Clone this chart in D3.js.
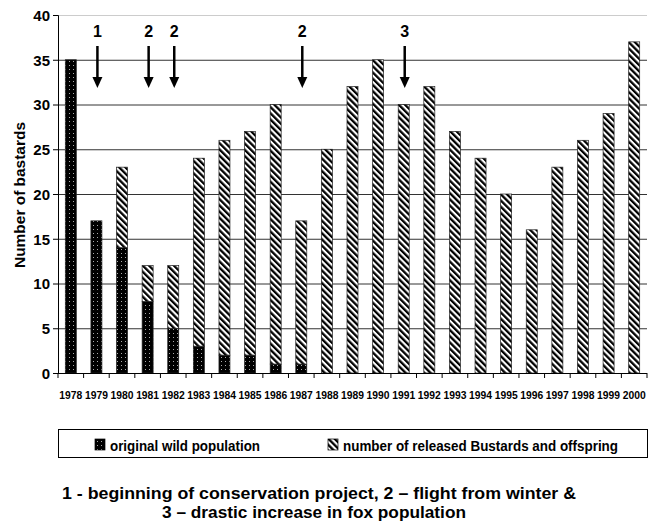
<!DOCTYPE html>
<html>
<head>
<meta charset="utf-8">
<script src="https://cdn.jsdelivr.net/npm/d3@7"></script>
<style>
  body { margin: 0; background: #fff; }
  svg text { font-family: "Liberation Sans", Arial, sans-serif; font-weight: bold; fill: #000; }
</style>
</head>
<body>
<div id="chart"></div>
<script>
// data
var years = ["1978","1979","1980","1981","1982","1983","1984","1985","1986","1987","1988",
             "1989","1990","1991","1992","1993","1994","1995","1996","1997","1998","1999","2000"];
var wild =     [35,17,14, 8, 5, 3, 2, 2, 1, 1, 0, 0, 0, 0, 0, 0, 0, 0, 0, 0, 0, 0, 0];
var released = [ 0, 0, 9, 4, 7,21,24,25,29,16,25,32,35,30,32,27,24,20,16,23,26,29,37];
var yTicks = [0,5,10,15,20,25,30,35,40];
var events = [{year:"1979", label:"1"}, {year:"1981", label:"2"}, {year:"1982", label:"2"},
              {year:"1987", label:"2"}, {year:"1991", label:"3"}];
var legendLabels = ["original wild population", "number of released Bustards and offspring"];
var notes = ["1  - beginning of conservation project, 2 \u2013 flight from winter &",
             "3 \u2013 drastic increase in fox population"];

var W = 653, H = 524;
var mLeft = 58, mRight = 647, mTop = 15, mBottom = 373;

var svg = d3.select("#chart").append("svg")
    .attr("width", W).attr("height", H);

var defs = svg.append("defs");
// dotted black fill
var pDot = defs.append("pattern").attr("id", "dots")
    .attr("patternUnits", "userSpaceOnUse").attr("width", 4).attr("height", 4);
pDot.append("rect").attr("width", 4).attr("height", 4).attr("fill", "#000");
pDot.append("rect").attr("x", 1).attr("y", 1).attr("width", 1).attr("height", 1).attr("fill", "#aaa");
// diagonal hatch, top-left to bottom-right
var pHatch = defs.append("pattern").attr("id", "hatch")
    .attr("patternUnits", "userSpaceOnUse").attr("width", 4.4).attr("height", 4.4)
    .attr("patternTransform", "rotate(-45)");
pHatch.append("rect").attr("width", 4.4).attr("height", 4.4).attr("fill", "#fff");
pHatch.append("rect").attr("x", 0).attr("width", 2.3).attr("height", 4.4).attr("fill", "#000");

var x = d3.scaleBand().domain(years).range([mLeft, mRight]).paddingInner(0.57).paddingOuter(0.285);
var y = d3.scaleLinear().domain([0, 40]).range([mBottom, mTop]);
var step = x.step();

// gridlines
svg.append("g").selectAll("line").data(yTicks.filter(function(d){ return d > 0; }))
    .enter().append("line")
    .attr("x1", mLeft).attr("x2", mRight)
    .attr("y1", function(d){ return y(d) + 0.5; }).attr("y2", function(d){ return y(d) + 0.5; })
    .attr("stroke", function(d){ return d == 40 ? "#ccc" : "#333"; })
    .attr("stroke-width", 1);

// stacked bars
var rows = years.map(function(yr, i){ return {year: yr, wild: wild[i], rel: released[i]}; });
var stack = d3.stack().keys(["wild", "rel"])(rows);
svg.append("g").selectAll("g").data(stack).enter().append("g")
    .attr("fill", function(d, i){ return i == 0 ? "url(#dots)" : "url(#hatch)"; })
    .selectAll("rect").data(function(d){ return d; }).enter()
    .filter(function(d){ return d[1] - d[0] > 0; })
    .append("rect")
    .attr("x", function(d){ return x(d.data.year); })
    .attr("width", x.bandwidth())
    .attr("y", function(d){ return y(d[1]); })
    .attr("height", function(d){ return y(d[0]) - y(d[1]); })
    .attr("stroke", "#222").attr("stroke-width", 0.7);

// y axis
var yAxis = svg.append("g").attr("transform", "translate(" + mLeft + ",0)")
    .call(d3.axisLeft(y).tickValues(yTicks).tickSize(5).tickPadding(3));
yAxis.select(".domain").attr("stroke", "#000");
yAxis.selectAll("text").style("font-size", "15px").attr("dy", "0.36em");

// x axis: ticks between the categories
var xg = svg.append("g");
xg.append("line").attr("x1", mLeft).attr("x2", mRight).attr("y1", mBottom + 0.5).attr("y2", mBottom + 0.5).attr("stroke", "#000");
xg.selectAll(".tk").data(d3.range(years.length + 1)).enter().append("line")
    .attr("x1", function(i){ return mLeft + i * step; }).attr("x2", function(i){ return mLeft + i * step; })
    .attr("y1", mBottom).attr("y2", mBottom + 5).attr("stroke", "#000");
xg.selectAll("text").data(years).enter().append("text")
    .attr("x", function(d){ return x(d) + x.bandwidth() / 2; })
    .attr("y", 399).attr("text-anchor", "middle")
    .attr("textLength", 23).attr("lengthAdjust", "spacingAndGlyphs")
    .style("font-size", "11px")
    .text(function(d){ return d; });

// y title
svg.append("text").attr("transform", "translate(25,195) rotate(-90)")
    .attr("text-anchor", "middle").style("font-size", "15px")
    .attr("textLength", 146).attr("lengthAdjust", "spacingAndGlyphs")
    .text("Number of bastards");

// event arrows
var ev = svg.append("g").selectAll("g").data(events).enter().append("g")
    .attr("transform", function(d){ return "translate(" + (x(d.year) + x.bandwidth() / 2 + 1) + ",0)"; });
ev.append("text").attr("y", 37).attr("text-anchor", "middle").style("font-size", "16px")
    .text(function(d){ return d.label; });
ev.append("line").attr("x1", 0).attr("x2", 0).attr("y1", 46).attr("y2", 79)
    .attr("stroke", "#000").attr("stroke-width", 2.5);
ev.append("path").attr("d", "M-5,77 L5,77 L0,88 Z").attr("fill", "#000");

// legend
var lg = svg.append("g");
lg.append("rect").attr("x", 58.5).attr("y", 429.5).attr("width", 589).attr("height", 28)
    .attr("fill", "#fff").attr("stroke", "#000");
var lx = [95, 328], lw = [150, 275];
lg.selectAll(".sw").data(legendLabels).enter().append("rect")
    .attr("x", function(d, i){ return lx[i]; }).attr("y", 439).attr("width", 10).attr("height", 11)
    .attr("fill", function(d, i){ return i == 0 ? "url(#dots)" : "url(#hatch)"; })
    .attr("stroke", "#000").attr("stroke-width", 0.7);
lg.selectAll("text").data(legendLabels).enter().append("text")
    .attr("x", function(d, i){ return lx[i] + 15; }).attr("y", 451)
    .attr("textLength", function(d, i){ return lw[i]; }).attr("lengthAdjust", "spacingAndGlyphs")
    .style("font-size", "15px")
    .text(function(d){ return d; });

// footnote
var nx = [62, 162], nw = [514, 304];
svg.append("g").selectAll("text").data(notes).enter().append("text")
    .attr("x", function(d, i){ return nx[i]; })
    .attr("y", function(d, i){ return 499 + i * 19; })
    .attr("textLength", function(d, i){ return nw[i]; }).attr("lengthAdjust", "spacingAndGlyphs")
    .style("font-size", "17px")
    .text(function(d){ return d; });
</script>
</body>
</html>
